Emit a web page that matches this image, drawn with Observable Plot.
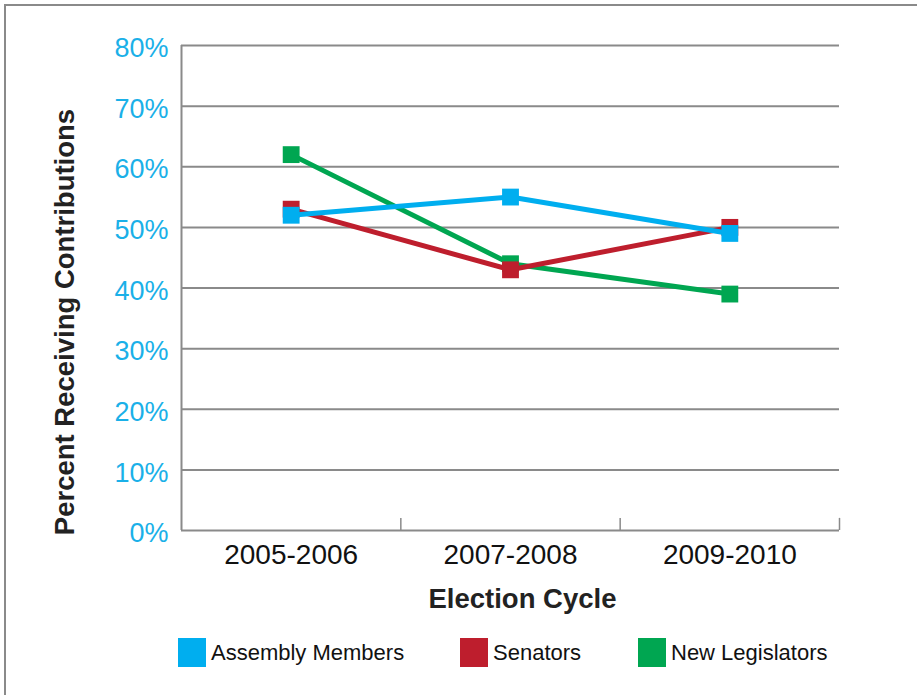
<!DOCTYPE html>
<html>
<head>
<meta charset="utf-8">
<script src="https://cdn.jsdelivr.net/npm/d3@7"></script>
<script src="https://cdn.jsdelivr.net/npm/@observablehq/plot@0.6"></script>
<style>
  html, body { margin: 0; padding: 0; background: #fff; overflow: hidden; width: 917px; height: 695px; }
  #frame { position: absolute; left: 4px; top: 4px; width: 960px; height: 760px; border: 2px solid #8a8a8a; box-sizing: border-box; }
  #chart { position: absolute; left: 0; top: 0; }
  #ytitle { position: absolute; left: 65px; top: 322px; transform: translate(-50%, -50%) rotate(-90deg); white-space: nowrap; font-family: "Liberation Sans", Arial, sans-serif; font-size: 27.5px; font-weight: bold; color: #222; }
  #legend { position: absolute; top: 638px; left: 0; width: 917px; height: 29px; font-family: "Liberation Sans", Arial, sans-serif; font-size: 22px; color: #111; }
  .item { position: absolute; top: 0; height: 29px; display: flex; align-items: center; }
  .sw { width: 28px; height: 29px; margin-right: 5px; }
</style>
</head>
<body>
<div id="frame"></div>
<div id="chart"></div>
<div id="ytitle">Percent Receiving Contributions</div>
<div id="legend"></div>
<script>
const cycles = ["2005-2006", "2007-2008", "2009-2010"];
const seriesNames = ["Assembly Members", "Senators", "New Legislators"];
const seriesColors = ["#00aeef", "#be1e2d", "#00a651"];
const assembly = [52, 55, 49];
const senators = [53, 43, 50];
const newLegislators = [62, 44, 39];
const yTicks = [0, 10, 20, 30, 40, 50, 60, 70, 80];

const seriesValues = [assembly, senators, newLegislators];
const data = [];
seriesNames.forEach((s, si) => {
  seriesValues[si].forEach((v, i) => data.push({series: s, idx: i + 0.5, value: v}));
});
// drawing order: green bottom, red, blue on top
const drawOrder = ["New Legislators", "Senators", "Assembly Members"];
const color = {domain: seriesNames, range: seriesColors};
const font = "Liberation Sans, Arial, sans-serif";

const marks = [
  Plot.ruleY(yTicks.filter(d => d > 0), {x1: 0, x2: 3, stroke: "#8a8a8a", strokeWidth: 2}),
  Plot.ruleX([0], {y1: 0, y2: 80, stroke: "#8a8a8a", strokeWidth: 2}),
  Plot.ruleY([0], {x1: 0, x2: 3, stroke: "#8a8a8a", strokeWidth: 2}),
  Plot.ruleX([1, 2, 3], {y1: 0, y2: 2, stroke: "#8a8a8a", strokeWidth: 1.5}),
  Plot.axisY({ticks: yTicks, tickSize: 0, tickPadding: 13, tickFormat: d => d + "%", fill: "#1ab0e8", fontSize: 27, label: null, dy: 3}),
  Plot.axisX({ticks: [0.5, 1.5, 2.5], tickSize: 0, tickPadding: 14, tickFormat: d => cycles[d - 0.5], fill: "#111", fontSize: 28, label: null}),
  Plot.text(["Election Cycle"], {frameAnchor: "bottom", dx: 12, dy: 77, fontSize: 27.5, fontWeight: "bold", fill: "#222"})
];
for (const s of drawOrder) {
  const sub = data.filter(d => d.series === s);
  marks.push(Plot.line(sub, {x: "idx", y: "value", stroke: "series", strokeWidth: 5}));
  marks.push(Plot.dot(sub, {x: "idx", y: "value", fill: "series", symbol: "square", r: 9.5}));
}

const chart = Plot.plot({
  width: 917,
  height: 615,
  marginLeft: 181,
  marginRight: 78,
  marginTop: 45,
  marginBottom: 85,
  style: {fontFamily: font, background: "transparent", overflow: "visible"},
  x: {type: "linear", domain: [0, 3], axis: null},
  y: {type: "linear", domain: [0, 80], axis: null},
  color,
  marks
});
document.getElementById("chart").appendChild(chart);

const legend = document.getElementById("legend");
const positions = [178, 460, 638];
seriesNames.forEach((s, i) => {
  const item = document.createElement("div");
  item.className = "item";
  item.style.left = positions[i] + "px";
  const sw = document.createElement("div");
  sw.className = "sw";
  sw.style.background = seriesColors[i];
  const t = document.createElement("span");
  t.textContent = s;
  item.appendChild(sw);
  item.appendChild(t);
  legend.appendChild(item);
});
</script>
</body>
</html>
